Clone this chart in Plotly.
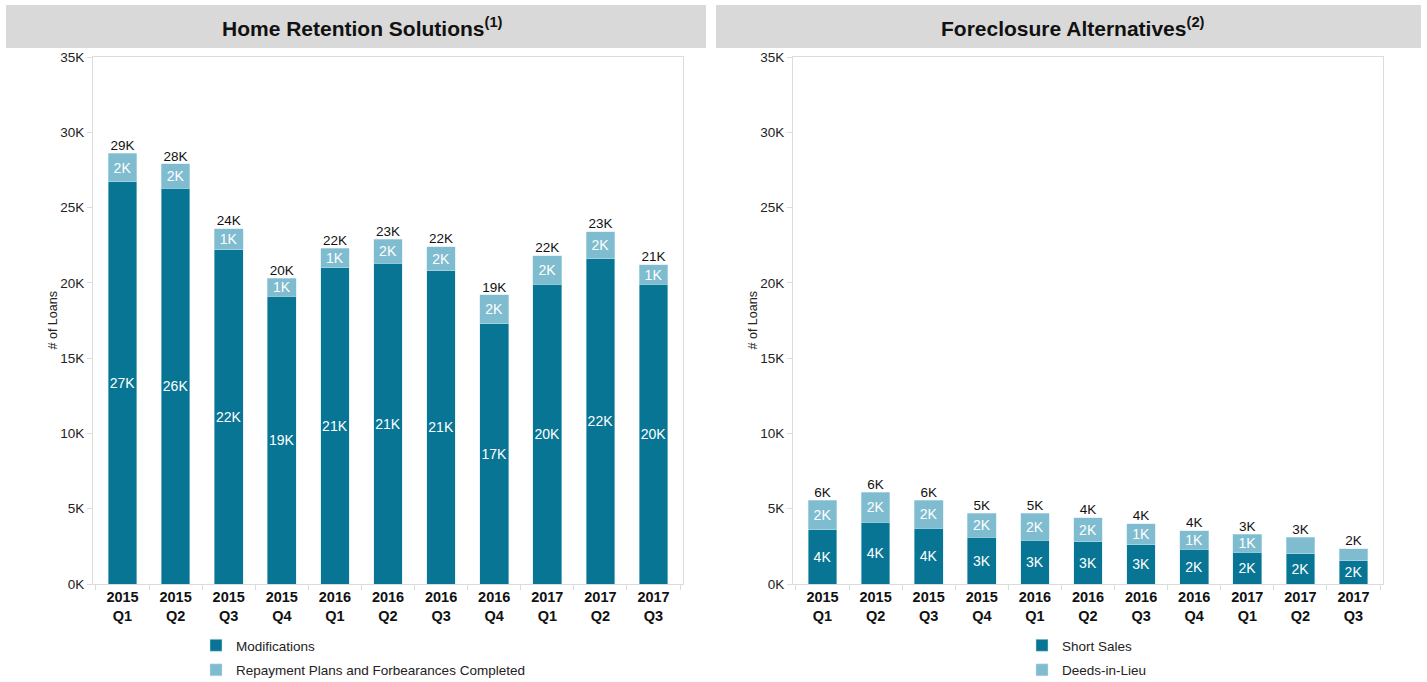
import plotly.graph_objects as go

# Quarterly loan counts, in thousands
quarters = ["2015<br>Q1", "2015<br>Q2", "2015<br>Q3", "2015<br>Q4",
            "2016<br>Q1", "2016<br>Q2", "2016<br>Q3", "2016<br>Q4",
            "2017<br>Q1", "2017<br>Q2", "2017<br>Q3"]

modifications = [26.7, 26.3, 22.2, 19.1, 21.0, 21.3, 20.8, 17.3, 19.9, 21.6, 19.9]
repayment_plans = [1.9, 1.6, 1.4, 1.2, 1.3, 1.6, 1.6, 1.9, 1.9, 1.8, 1.3]

short_sales = [3.6, 4.1, 3.7, 3.1, 2.9, 2.8, 2.6, 2.3, 2.1, 2.0, 1.55]
deeds_in_lieu = [1.95, 2.0, 1.85, 1.6, 1.8, 1.6, 1.4, 1.25, 1.2, 1.1, 0.8]

y_ticks = [0, 5, 10, 15, 20, 25, 30, 35]

DARK = "#087594"
LIGHT = "#7fbccf"
FONT = "Arial, 'Liberation Sans', sans-serif"
LABEL_MIN = 1.15  # segments thinner than this carry no label

W, H = 1427, 682


def px_x(v):
    return v / W


def px_y(v):
    return 1 - v / H


def seg_labels(vals):
    return ["%{y:.0f}K" if v >= LABEL_MIN else "" for v in vals]


fig = go.Figure()

panels = [
    ("x", "y", "legend", modifications, repayment_plans,
     "Modifications", "Repayment Plans and Forbearances Completed"),
    ("x2", "y2", "legend2", short_sales, deeds_in_lieu,
     "Short Sales", "Deeds-in-Lieu"),
]

for xa, ya, lg, base, top, base_name, top_name in panels:
    for vals, name, color in ((base, base_name, DARK), (top, top_name, LIGHT)):
        fig.add_trace(go.Bar(
            x=quarters, y=vals, name=name, xaxis=xa, yaxis=ya,
            legend=lg, legendgroup=name,
            marker=dict(color=color, line=dict(color="rgba(200,230,240,0.8)", width=0.6)),
            texttemplate=seg_labels(vals), textposition="inside",
            insidetextanchor="middle", textangle=0,
            textfont=dict(color="white", size=14, family=FONT),
            hoverinfo="skip",
        ))
    totals = [a + b for a, b in zip(base, top)]
    fig.add_trace(go.Scatter(
        x=quarters, y=totals, mode="text", xaxis=xa, yaxis=ya,
        texttemplate="%{y:.0f}K", textposition="top center",
        textfont=dict(color="#111", size=13.5, family=FONT),
        showlegend=False, hoverinfo="skip", cliponaxis=False,
    ))

plot_top, plot_bottom = 57, 584
y_dom = [px_y(plot_bottom), px_y(plot_top)]

axis_common = dict(showline=True, linecolor="#dcdcdc", linewidth=1, mirror=True,
                   showgrid=False, zeroline=False, automargin=False)

xaxis_style = dict(axis_common, type="category", tickson="boundaries",
                   ticks="outside", ticklen=5, tickcolor="#dcdcdc",
                   tickfont=dict(size=14.5, color="#111", family=FONT, weight="bold"))
yaxis_style = dict(axis_common, range=[0, 35], tickvals=y_ticks,
                   ticktext=[f"{v}K" for v in y_ticks],
                   ticks="outside", ticklen=5, tickcolor="#dcdcdc",
                   tickfont=dict(size=13.5, color="#222", family=FONT))

legend_style = dict(yanchor="bottom", y=-4 / H, xanchor="left",
                    font=dict(size=13.5, color="#222", family=FONT),
                    bgcolor="rgba(0,0,0,0)", traceorder="grouped", tracegroupgap=4)

left_axis_px, right_axis_px = 93, 793

annotations = [
    dict(text="<b>Home Retention Solutions<sup>(1)</sup></b>", xref="paper", yref="paper",
         x=px_x(362), y=px_y(27), xanchor="center", yanchor="middle", showarrow=False,
         font=dict(size=21, color="#111", family=FONT)),
    dict(text="<b>Foreclosure Alternatives<sup>(2)</sup></b>", xref="paper", yref="paper",
         x=px_x(1073), y=px_y(27), xanchor="center", yanchor="middle", showarrow=False,
         font=dict(size=21, color="#111", family=FONT)),
]
for ax_px in (left_axis_px, right_axis_px):
    annotations.append(dict(
        text="# of Loans", xref="paper", yref="paper",
        x=px_x(ax_px - 41), y=px_y((plot_top + plot_bottom) / 2),
        xanchor="center", yanchor="middle", textangle=-90, showarrow=False,
        font=dict(size=12.5, color="#222", family=FONT)))

fig.update_layout(
    width=W, height=H,
    margin=dict(l=0, r=0, t=0, b=0, autoexpand=False),
    paper_bgcolor="white", plot_bgcolor="white",
    barmode="stack", bargap=0.46,
    uniformtext=dict(minsize=14, mode="show"),
    font=dict(family=FONT),
    xaxis=dict(xaxis_style, domain=[px_x(left_axis_px), px_x(683)], anchor="y"),
    yaxis=dict(yaxis_style, domain=y_dom, anchor="x"),
    xaxis2=dict(xaxis_style, domain=[px_x(right_axis_px), px_x(1383)], anchor="y2"),
    yaxis2=dict(yaxis_style, domain=y_dom, anchor="x2"),
    legend=dict(legend_style, x=px_x(196)),
    legend2=dict(legend_style, x=px_x(1022)),
    shapes=[
        dict(type="rect", xref="paper", yref="paper",
             x0=px_x(6), x1=px_x(706), y0=px_y(48), y1=px_y(5),
             fillcolor="#d9d9d9", line=dict(width=0), layer="below"),
        dict(type="rect", xref="paper", yref="paper",
             x0=px_x(716), x1=px_x(1421), y0=px_y(48), y1=px_y(5),
             fillcolor="#d9d9d9", line=dict(width=0), layer="below"),
    ],
    annotations=annotations,
)

fig.write_html("out.html")
